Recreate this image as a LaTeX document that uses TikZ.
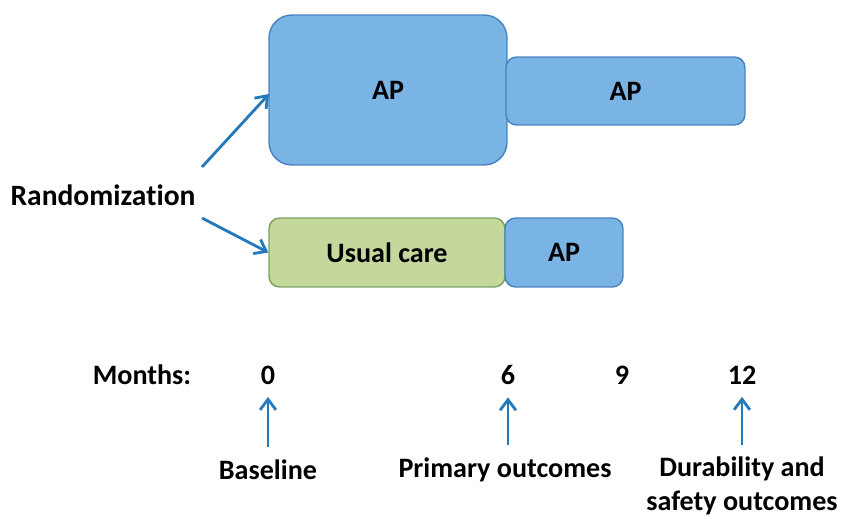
\documentclass[tikz,border=0pt]{standalone}
\usepackage{fontspec}
\setmainfont{Carlito}[Ligatures=CommonOff]
\usepackage{xcolor}
\usepackage{tikz}
\usetikzlibrary{arrows.meta}
\usetikzlibrary{positioning}
\definecolor{apblue}{RGB}{122,180,228}
\definecolor{apedge}{RGB}{70,130,190}
\definecolor{ucgreen}{RGB}{196,216,156}
\definecolor{ucedge}{RGB}{125,160,95}
\definecolor{arrowblue}{RGB}{36,120,188}
\tikzset{
    apbox/.style = {rectangle, rounded corners=6pt, draw=apedge, fill=apblue, line width=0.8pt, align=center},
    ucbox/.style = {rectangle, rounded corners=6pt, draw=ucedge, fill=ucgreen, line width=0.8pt, align=center},
    lbl/.style = {align=center, inner sep=0pt},
    arr/.style = {-{Straight Barb[length=6pt,width=9pt]}, line width=1.6pt, arrowblue},
}
\begin{document}
\begin{tikzpicture}[
	x=0.02cm, y=-0.02cm,
	font=\bfseries\fontsize{16}{19}\selectfont
]
\useasboundingbox (0,0) rectangle (843,518);
\node[apbox, rounded corners=13pt, minimum width=4.76cm, minimum height=3.0cm] at (388,90) (ap1) {AP};
\node[apbox, minimum width=4.78cm, minimum height=1.36cm] at (625.5,91) (ap2) {AP};
\node[ucbox, minimum width=4.72cm, minimum height=1.38cm] at (387,252.5) (uc) {Usual care};
\node[apbox, minimum width=2.36cm, minimum height=1.38cm] at (564,252.5) (ap3) {AP};
\node[lbl, font=\bfseries\fontsize{16.8}{19}\selectfont] at (103,195) (rand) {Randomization};
%
\coordinate (r1) at (202,167);
\coordinate (r2) at (202,218);
\coordinate (t1) at (269,94);
\draw[arr] (r1) -- (t1);
\draw[arr] (r2) -- (uc.west);
%
\node[lbl] at (142,375) (mon) {Months:};
\node[lbl] at (268,375) (m0) {0};
\node[lbl] at (508,375) (m6) {6};
\node[lbl] at (622,375) (m9) {9};
\node[lbl] at (742,375) (m12) {12};
%
\node[lbl] at (268,470) (base) {Baseline};
\node[lbl] at (505,470) (prim) {Primary outcomes};
\node[lbl] at (742,486) (dur) {Durability and\\safety outcomes};
%
\draw[arr, shorten <=7pt, shorten >=7pt] (base.north) -- (m0.south);
\draw[arr, shorten <=7pt, shorten >=7pt] (prim.north -| m6) -- (m6.south);
\draw[arr, shorten <=7pt, shorten >=7pt] (dur.north) -- (m12.south);
\end{tikzpicture}
\end{document}
